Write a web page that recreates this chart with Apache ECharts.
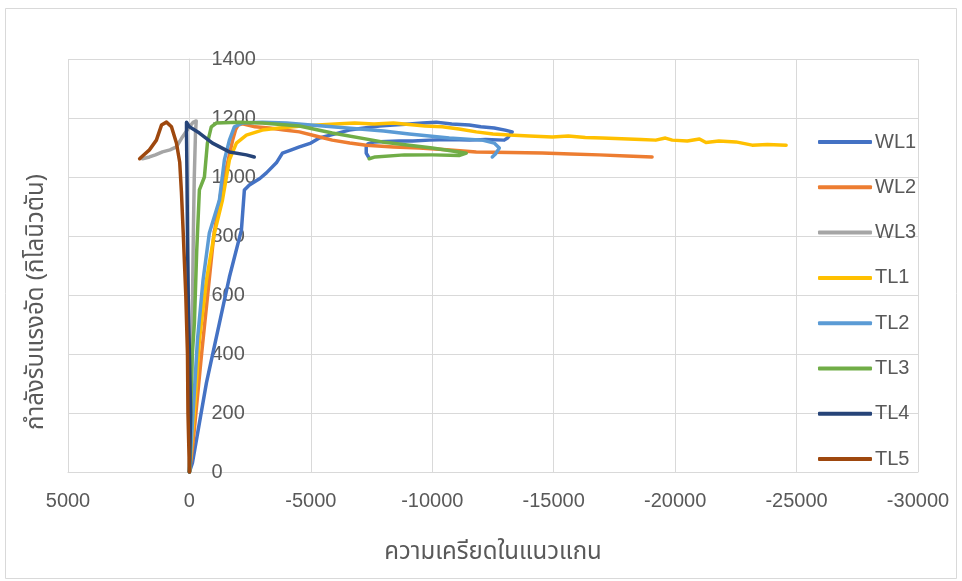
<!DOCTYPE html>
<html>
<head>
<meta charset="utf-8">
<script src="https://cdn.jsdelivr.net/npm/echarts@6/dist/echarts.min.js"></script>
<style>
  html, body { margin: 0; padding: 0; background: #ffffff; }
  #chart { width: 962px; height: 581px; }
</style>
</head>
<body>
<div id="chart"></div>
<script>
// Axial strain (x) vs. compressive load in kN (y) for each specimen
const seriesNames = ['WL1', 'WL2', 'WL3', 'TL1', 'TL2', 'TL3', 'TL4', 'TL5'];
const seriesColors = ['#4472C4', '#ED7D31', '#A5A5A5', '#FFC000', '#5B9BD5', '#70AD47', '#264478', '#9E480E'];

const xTicks = [5000, 0, -5000, -10000, -15000, -20000, -25000, -30000];
const yTicks = [0, 200, 400, 600, 800, 1000, 1200, 1400];

const wl1 = [
  [0, 0], [-123, 31], [-700, 302], [-1235, 505], [-1646, 661], [-2140, 820],
  [-2263, 956], [-2470, 973], [-2900, 995], [-3170, 1014], [-3580, 1048],
  [-3830, 1081], [-4200, 1092], [-4530, 1102], [-5000, 1115], [-5350, 1132],
  [-6000, 1146], [-6580, 1159], [-7200, 1166], [-7820, 1173], [-8400, 1176],
  [-9050, 1180], [-9600, 1183], [-10160, 1186], [-10800, 1180], [-11520, 1176],
  [-12000, 1170], [-12550, 1166], [-13000, 1159], [-13290, 1153],
  [-13100, 1132], [-12960, 1125], [-12200, 1127], [-11520, 1125], [-10700, 1127],
  [-9880, 1125], [-9200, 1122], [-8640, 1122], [-8100, 1120], [-7610, 1119],
  [-7350, 1112], [-7280, 1102], [-7280, 1081], [-7370, 1068]
];

const wl2 = [
  [0, 0], [-150, 100], [-290, 220], [-500, 400], [-750, 600], [-1000, 800],
  [-1300, 950], [-1600, 1058], [-1780, 1125], [-1900, 1160], [-2000, 1176],
  [-2180, 1180], [-2700, 1170], [-3290, 1166], [-3900, 1159], [-4530, 1153],
  [-5200, 1139], [-5880, 1125], [-6600, 1115], [-7280, 1108], [-8400, 1102],
  [-9460, 1098], [-10600, 1092], [-11810, 1085], [-13200, 1083], [-14530, 1081],
  [-15700, 1078], [-16870, 1075], [-18000, 1071], [-19050, 1068]
];

const wl3 = [
  [0, 0], [-60, 200], [-100, 400], [-130, 600], [-160, 800], [-200, 1000],
  [-250, 1150], [-280, 1190], [-150, 1185], [0, 1170], [288, 1136],
  [535, 1102], [800, 1092], [1110, 1085], [1400, 1075], [1645, 1068], [1930, 1062]
];

const tl1 = [
  [0, 0], [-200, 200], [-410, 447], [-700, 650], [-1030, 810], [-1360, 922],
  [-1646, 1058], [-1935, 1115], [-2345, 1142], [-3000, 1159], [-3700, 1166],
  [-4500, 1172], [-5300, 1176], [-6000, 1180], [-6800, 1183], [-7600, 1180],
  [-8400, 1183], [-9050, 1178], [-9700, 1173], [-10410, 1170], [-11100, 1163],
  [-11810, 1153], [-12500, 1146], [-13170, 1142], [-14000, 1139], [-14940, 1136],
  [-15600, 1139], [-16300, 1134], [-17000, 1132], [-17800, 1130], [-18600, 1127],
  [-19200, 1125], [-19600, 1132], [-19880, 1125], [-20500, 1122], [-21000, 1129],
  [-21270, 1117], [-21800, 1122], [-22500, 1119], [-23170, 1108], [-23800, 1110],
  [-24570, 1108]
];

const tl2 = [
  [0, 0], [-150, 200], [-330, 447], [-560, 650], [-820, 810], [-1235, 922],
  [-1440, 1058], [-1646, 1125], [-1850, 1170], [-2180, 1183], [-3000, 1186],
  [-4000, 1183], [-5000, 1176], [-6500, 1166], [-8000, 1156], [-9050, 1146],
  [-10700, 1132], [-12060, 1125], [-12550, 1115], [-12760, 1098],
  [-12600, 1078], [-12470, 1068]
];

const tl3 = [
  [0, 0], [-50, 200], [-120, 400], [-205, 505], [-300, 750], [-410, 956],
  [-617, 1000], [-740, 1115], [-900, 1170], [-1110, 1183], [-2000, 1186],
  [-3000, 1183], [-4530, 1173], [-5880, 1149], [-7940, 1119], [-10000, 1098],
  [-11100, 1085], [-11400, 1081], [-11100, 1073], [-10000, 1075],
  [-8850, 1075], [-7650, 1068], [-7400, 1062]
];

const tl4 = [
  [0, 0], [-50, 200], [0, 400], [50, 600], [80, 800], [100, 1000],
  [120, 1150], [120, 1186], [0, 1170], [-410, 1149], [-950, 1115],
  [-1646, 1085], [-2345, 1075], [-2670, 1068]
];

const tl5 = [
  [0, 0], [60, 200], [80, 400], [150, 600], [250, 800], [330, 950],
  [400, 1050], [535, 1115], [740, 1170], [945, 1186], [1150, 1176],
  [1360, 1125], [1646, 1092], [1975, 1068], [2050, 1062]
];

const seriesData = [wl1, wl2, wl3, tl1, tl2, tl3, tl4, tl5];

const textColor = '#595959';
const gridColor = '#D9D9D9';
const baseFont = '"Liberation Sans", "Noto Sans", sans-serif';
const thaiFont = '"Noto Sans Thai", "Noto Sans Thai UI", "Noto Sans", "Liberation Sans", sans-serif';

const chart = echarts.init(document.getElementById('chart'), null, { renderer: 'canvas' });

chart.setOption({
  animation: false,
  backgroundColor: '#ffffff',
  grid: { left: 68, right: 44, top: 59, bottom: 109, containLabel: false, outerBoundsMode: 'none' },
  xAxis: {
    type: 'value',
    inverse: true,
    min: xTicks[xTicks.length - 1],
    max: xTicks[0],
    interval: 5000,
    name: 'ความเครียดในแนวแกน',
    nameLocation: 'middle',
    nameGap: 70,
    nameTextStyle: { color: textColor, fontSize: 24, fontFamily: thaiFont },
    axisLine: { show: true, onZero: false, lineStyle: { color: gridColor, width: 1 } },
    axisTick: { show: false },
    splitLine: { show: true, lineStyle: { color: gridColor, width: 1 } },
    axisLabel: {
      color: textColor, fontSize: 20, fontFamily: baseFont, margin: 19,
      formatter: v => String(v)
    }
  },
  yAxis: {
    type: 'value',
    position: 'right',
    offset: 0,
    min: yTicks[0],
    max: yTicks[yTicks.length - 1],
    interval: 200,
    axisLine: { show: true, onZero: false, lineStyle: { color: gridColor, width: 1 } },
    axisTick: { show: false },
    splitLine: { show: true, lineStyle: { color: gridColor, width: 1 } },
    axisLabel: {
      color: textColor, fontSize: 20, fontFamily: baseFont, margin: 22,
      formatter: v => String(v)
    }
  },
  legend: {
    orient: 'vertical',
    left: 818,
    top: 132,
    padding: 0,
    itemWidth: 54,
    itemHeight: 4,
    itemGap: 25.3,
    icon: 'roundRect',
    textStyle: { color: textColor, fontSize: 20, fontFamily: baseFont, padding: [0, 0, 0, -2] },
    data: seriesNames
  },
  graphic: [
    {
      type: 'rect',
      shape: { x: 5.5, y: 8.5, width: 951, height: 570 },
      style: { fill: 'none', stroke: '#D9D9D9', lineWidth: 1 },
      silent: true, z: -10
    },
    {
      type: 'text',
      x: 38, y: 302,
      rotation: Math.PI / 2,
      style: {
        text: 'กำลังรับแรงอัด (กิโลนิวตัน)',
        fill: textColor, fontSize: 24, fontFamily: thaiFont,
        align: 'center', verticalAlign: 'middle'
      }
    }
  ],
  series: seriesNames.map((name, i) => ({
    name: name,
    type: 'line',
    data: seriesData[i],
    showSymbol: false,
    symbol: 'none',
    smooth: false,
    color: seriesColors[i],
    lineStyle: { color: seriesColors[i], width: 3.5, cap: 'round', join: 'round' }
  }))
});

// Move the load axis so it crosses the strain axis at zero strain
const zeroX = chart.convertToPixel({ xAxisIndex: 0 }, 0);
const rightX = chart.convertToPixel({ xAxisIndex: 0 }, xTicks[xTicks.length - 1]);
chart.setOption({ yAxis: { offset: zeroX - rightX } });
</script>
</body>
</html>
